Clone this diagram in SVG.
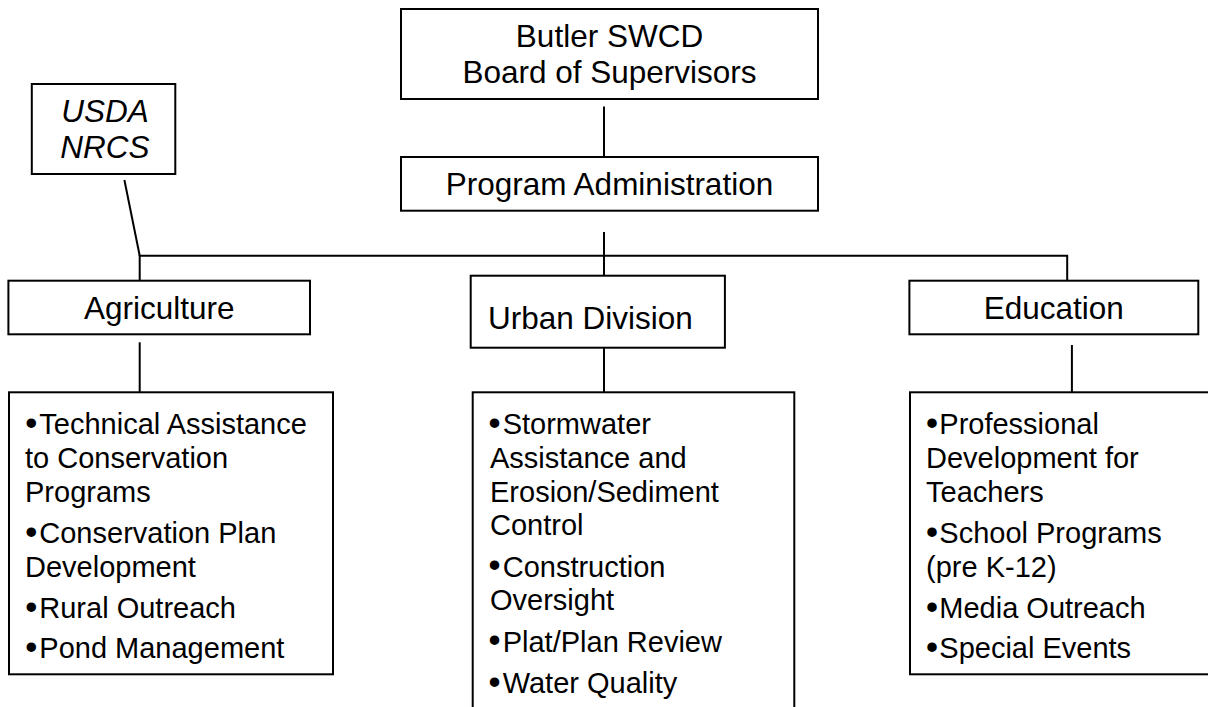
<svg xmlns="http://www.w3.org/2000/svg" width="1208" height="707" viewBox="0 0 1208 707">
<style>
.box{fill:#fff;stroke:#000;stroke-width:2}
.c{fill:none;stroke:#000;stroke-width:2}
text{font-family:"Liberation Sans",Arial,sans-serif;fill:#000}
.h{font-size:31.5px}
.hc{font-size:31.5px;text-anchor:middle}
.i{font-style:italic}
.l{font-size:29px}
.bu{font-size:33px;font-weight:bold;text-anchor:middle}
</style>
<rect width="1208" height="707" fill="#fff"/>
<g id="connectors">
<line class="c" x1="604" y1="106.5" x2="604" y2="157"/>
<line class="c" x1="604" y1="232" x2="604" y2="280"/>
<line class="c" x1="124.4" y1="180" x2="139.7" y2="255.7"/>
<polyline class="c" points="139.7,280.7 139.7,255.7 1067.2,255.7 1067.2,280.7"/>
<line class="c" x1="139.7" y1="342.3" x2="139.7" y2="392"/>
<line class="c" x1="604" y1="343.3" x2="604" y2="392"/>
<line class="c" x1="1071.9" y1="345" x2="1071.9" y2="392"/>
</g>
<g id="butler">
<rect class="box" x="401" y="9" width="417" height="90"/>
<text class="hc" x="609.5" y="46.7">Butler SWCD</text>
<text class="hc" x="609.5" y="83.3">Board of Supervisors</text>
</g>
<g id="program-administration">
<rect class="box" x="401" y="157" width="417" height="53.7"/>
<text class="hc" x="609.5" y="194.5">Program Administration</text>
</g>
<g id="usda-nrcs">
<rect class="box" x="31.8" y="84" width="143.5" height="90"/>
<text class="hc i" x="105" y="121.7">USDA</text>
<text class="hc i" x="105" y="158.3">NRCS</text>
</g>
<g id="agriculture">
<rect class="box" x="8.4" y="280.7" width="301.6" height="53.6"/>
<text class="hc" x="159.2" y="319">Agriculture</text>
</g>
<g id="urban-division">
<rect class="box" x="470.7" y="275.7" width="254.2" height="72"/>
<text class="h" x="488" y="329">Urban Division</text>
</g>
<g id="education">
<rect class="box" x="909.4" y="280.7" width="288.9" height="53.6"/>
<text class="hc" x="1053.7" y="319">Education</text>
</g>
<g id="agriculture-list">
<rect class="box" x="9" y="392.3" width="324" height="282"/>
<text class="bu" x="31.3" y="433.5">•</text>
<text class="l" x="39.3" y="434.3">Technical Assistance</text>
<text class="l" x="25" y="468.3">to Conservation</text>
<text class="l" x="25" y="501.7">Programs</text>
<text class="bu" x="31.3" y="542.5">•</text>
<text class="l" x="39.3" y="543.3">Conservation Plan</text>
<text class="l" x="25" y="576.7">Development</text>
<text class="bu" x="31.3" y="617.5">•</text>
<text class="l" x="39.3" y="618.3">Rural Outreach</text>
<text class="bu" x="31.3" y="657.5">•</text>
<text class="l" x="39.3" y="658.3">Pond Management</text>
</g>
<g id="urban-list">
<rect class="box" x="472.7" y="392.3" width="321.6" height="330"/>
<text class="bu" x="494.5" y="433.5">•</text>
<text class="l" x="502.7" y="434.3">Stormwater</text>
<text class="l" x="490" y="468.3">Assistance and</text>
<text class="l" x="490" y="501.7">Erosion/Sediment</text>
<text class="l" x="490" y="535">Control</text>
<text class="bu" x="494.5" y="575.9">•</text>
<text class="l" x="502.7" y="576.7">Construction</text>
<text class="l" x="490" y="610">Oversight</text>
<text class="bu" x="494.5" y="650.9">•</text>
<text class="l" x="502.7" y="651.7">Plat/Plan Review</text>
<text class="bu" x="494.5" y="692.5">•</text>
<text class="l" x="502.7" y="693.3">Water Quality</text>
</g>
<g id="education-list">
<rect class="box" x="910" y="392.3" width="310" height="282"/>
<text class="bu" x="932" y="433.5">•</text>
<text class="l" x="939.3" y="434.3">Professional</text>
<text class="l" x="926" y="468.3">Development for</text>
<text class="l" x="926" y="501.7">Teachers</text>
<text class="bu" x="932" y="542.5">•</text>
<text class="l" x="939.3" y="543.3">School Programs</text>
<text class="l" x="926" y="576.7">(pre K-12)</text>
<text class="bu" x="932" y="617.5">•</text>
<text class="l" x="939.3" y="618.3">Media Outreach</text>
<text class="bu" x="932" y="657.5">•</text>
<text class="l" x="939.3" y="658.3">Special Events</text>
</g>
</svg>
